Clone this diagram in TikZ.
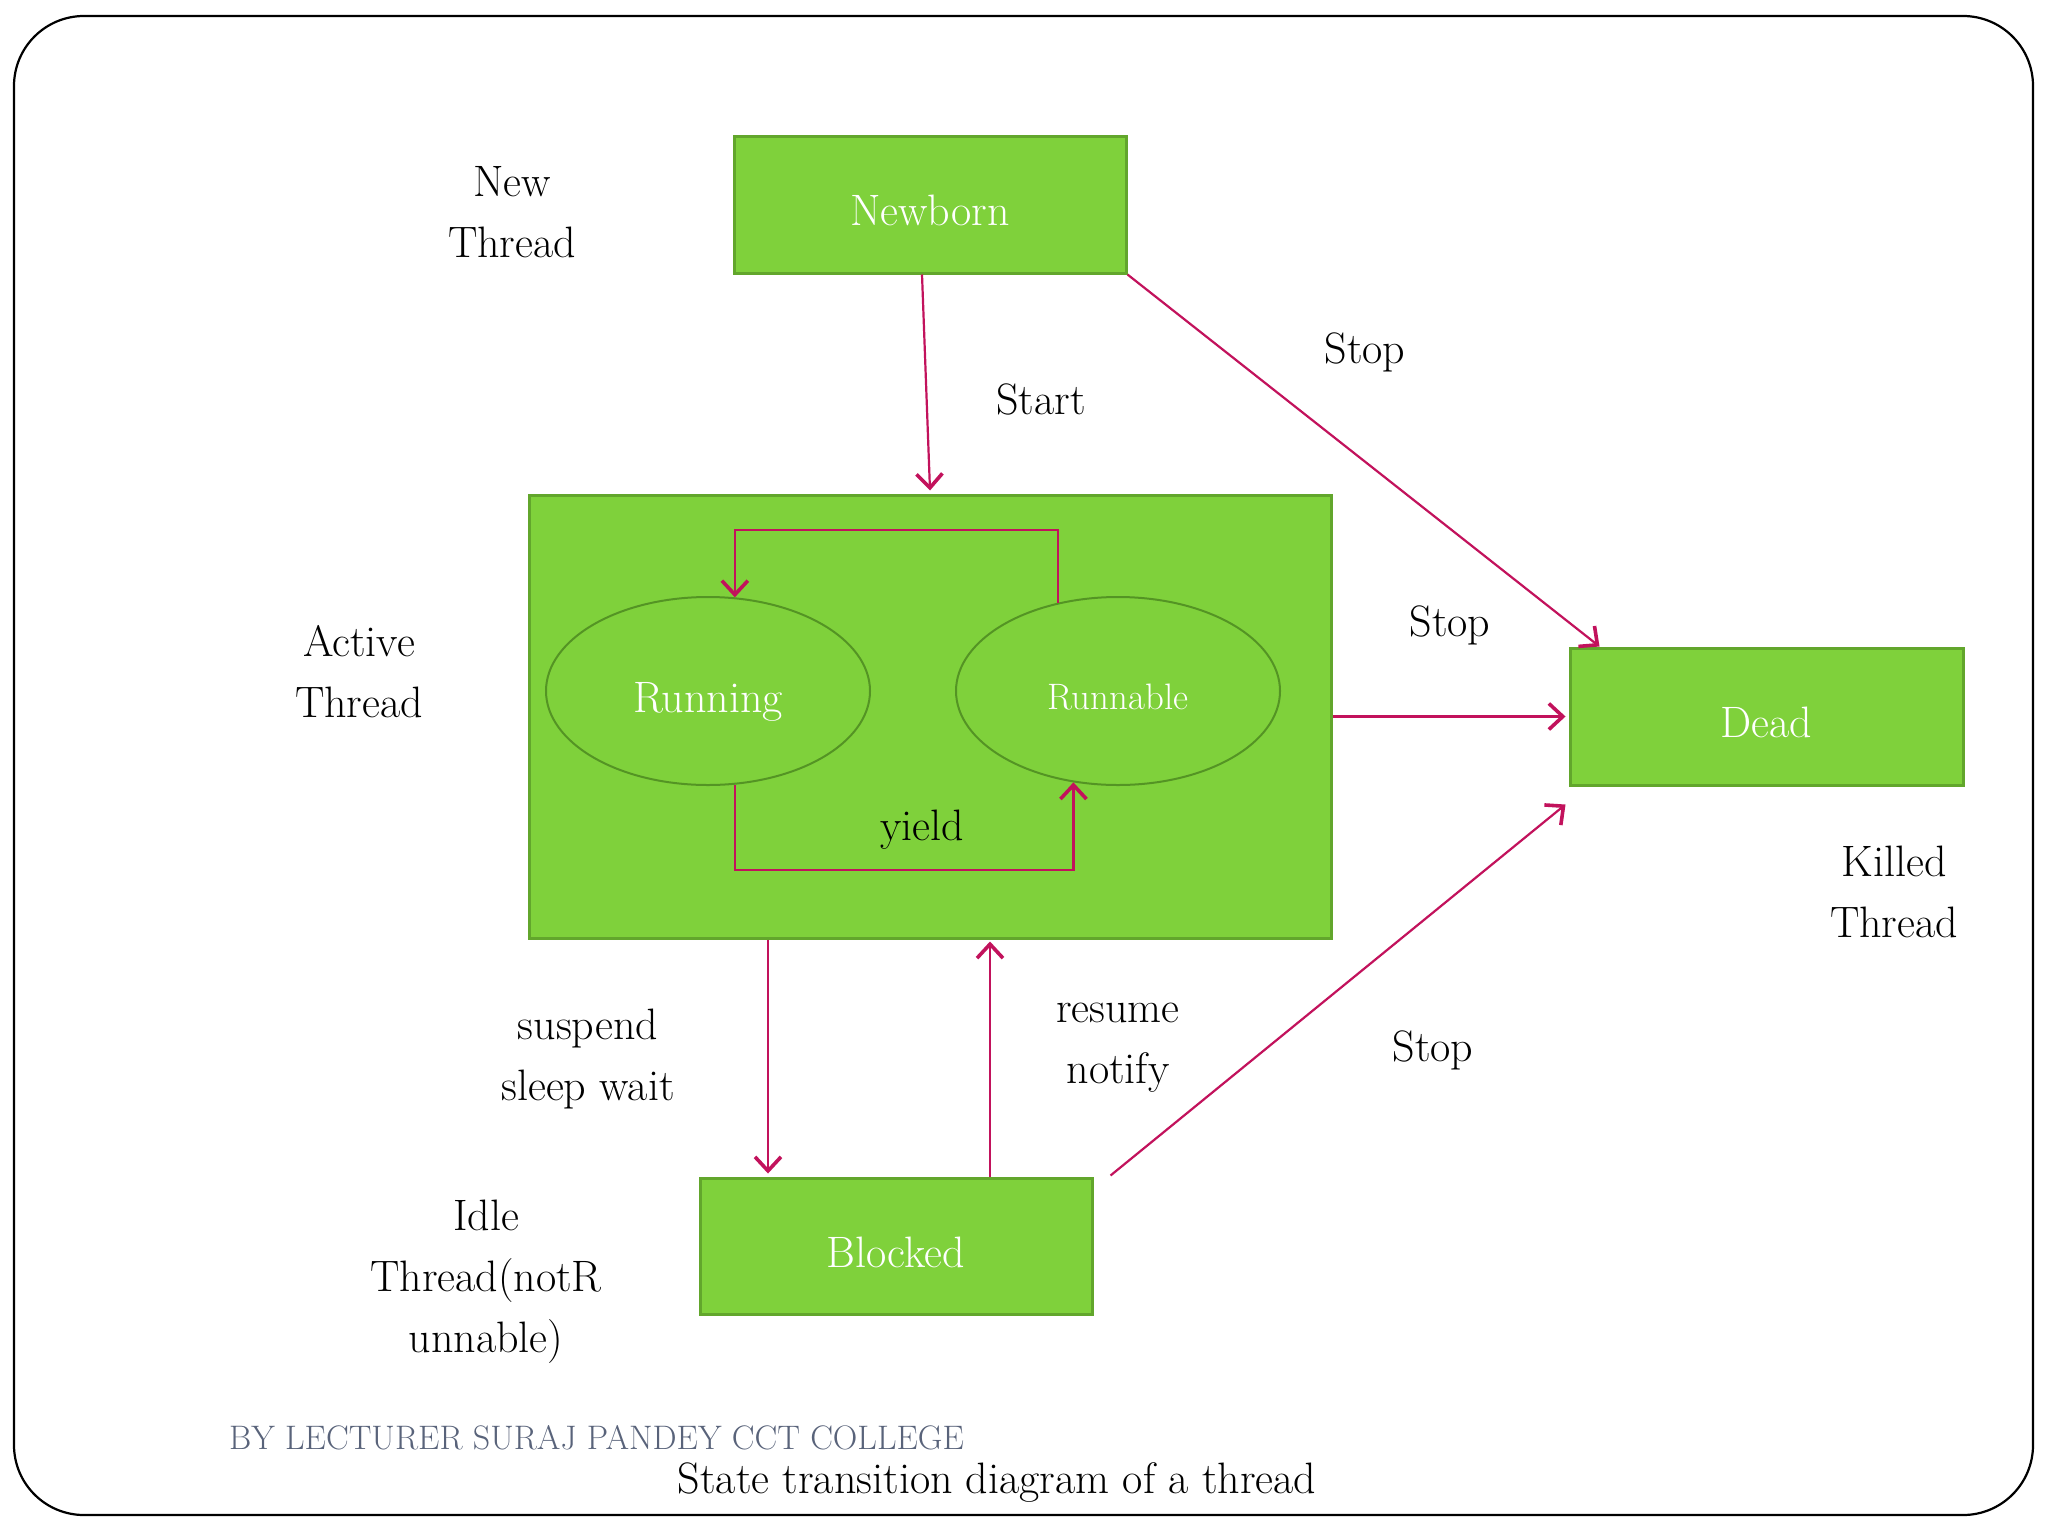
\documentclass[tikz,border=0pt]{standalone}
\usetikzlibrary{arrows.meta,shapes.geometric}
\definecolor{boxgreen}{RGB}{127,209,59}
\definecolor{boxedge}{RGB}{98,166,44}
\definecolor{elledge}{RGB}{84,148,36}
\definecolor{arrpink}{RGB}{194,18,92}
\definecolor{bygrey}{RGB}{89,99,122}
\tikzset{
  state/.style={draw=boxedge, line width=1.5pt, fill=boxgreen, text=white, inner sep=0pt,
    text height=21pt, text depth=0pt},
  oval/.style={ellipse, draw=elledge, line width=1pt, fill=boxgreen, text=white,
    minimum width=162pt, minimum height=94pt, inner sep=0pt, text depth=0pt},
  lbl/.style={align=center, font=\fontsize{22}{30.5}\selectfont, text=black},
  arr/.style={draw=arrpink, line width=1.1pt, -{Straight Barb[length=7pt,width=13pt,line width=1.8pt]}},
}
\begin{document}
\begin{tikzpicture}[x=0.5pt,y=-0.5pt]
\useasboundingbox (0,0) rectangle (2048,1536);
% frame
\draw[line width=1.1pt, rounded corners=35pt] (14,16) rectangle (2033,1515);

% boxes
\node[state, minimum width=196pt, minimum height=68.5pt, font=\fontsize{22}{26}\selectfont] (nb) at (930,204.5) {Newborn};
\node[state, text height=, text depth=, minimum width=401pt, minimum height=221.5pt] (act) at (930,716.5) {};
\node[oval, text height=21pt, font=\fontsize{22}{26}\selectfont] (run) at (708,691) {Running};
\node[oval, text height=18pt, font=\fontsize{18.4}{22}\selectfont] (rnb) at (1118,691) {Runnable};
\node[state, minimum width=196.5pt, minimum height=68.5pt, font=\fontsize{22}{26}\selectfont] (dead) at (1766.5,716.5) {Dead};
\node[state, minimum width=196pt, minimum height=68pt, font=\fontsize{22}{26}\selectfont] (blk) at (896,1246) {Blocked};

% labels
\node[lbl] (lnew) at (512,212) {New\\Thread};
\node[lbl] (lact) at (359,672) {Active\\Thread};
\node[lbl] (lkill) at (1894,892) {Killed\\Thread};
\node[lbl] (lidle) at (486,1282) {Idle\\Thread(notR\\unnable)};
\node[lbl] (lstart) at (1041,399) {Start};
\node[lbl] (lstop1) at (1365,352) {Stop};
\node[lbl] (lstop2) at (1450,625) {Stop};
\node[lbl] (lstop3) at (1433,1050) {Stop};
\node[lbl] (lyield) at (922,830) {yield};
\node[lbl] (lsus) at (588,1059) {suspend\\sleep wait};
\node[lbl] (lres) at (1118,1048) {resume\\notify};
\node[anchor=west, text=bygrey, font=\fontsize{17}{20}\selectfont] (lby) at (222,1438) {BY LECTURER SURAJ PANDEY CCT COLLEGE};
\node[font=\fontsize{22}{26}\selectfont] (lcap) at (997,1483) {State transition diagram of a thread};

% connectors
\coordinate (loopTop) at (0,530);
\coordinate (loopBot) at (0,870);
\draw[arr] ([xshift=-4pt]nb.south) -- ([yshift=1.5pt]act.north);
\draw[arr] (nb.south east) -- ([xshift=15.5pt]dead.north west);
\draw[arr] (act.east) -- ([xshift=-1.5pt]dead.west);
\draw[arr] ([xshift=8.5pt,yshift=0.5pt]blk.north east) -- ([xshift=-1.5pt,yshift=-9pt]dead.south west);
\draw[arr] ([xshift=-81pt]act.south) -- ([xshift=-81pt,yshift=1.5pt]act.south |- blk.north);
\draw[arr] ([xshift=47pt]blk.north) -- ([xshift=47pt,yshift=-1pt]blk.north |- act.south);
\draw[arr] (rnb.124.5) -- (rnb.124.5 |- loopTop) -| (run.74);
\draw[arr] (run.286) -- (run.286 |- loopBot) -| (rnb.244.6);
\end{tikzpicture}
\end{document}
